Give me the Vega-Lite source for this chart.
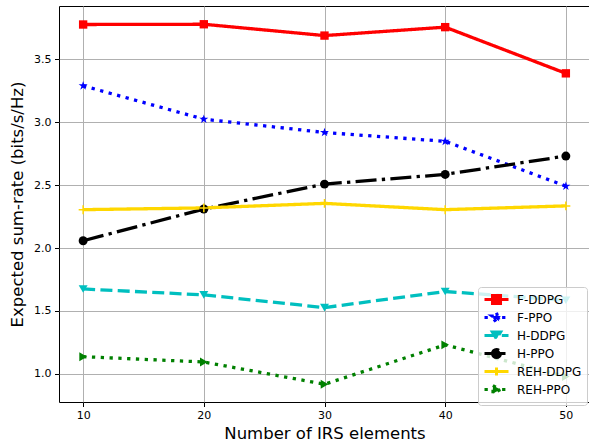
{
  "$schema": "https://vega.github.io/schema/vega-lite/v6.json",
  "width": 531,
  "height": 396,
  "autosize": {"type": "none"},
  "padding": {"left": 59, "top": 6, "right": 0, "bottom": 40},
  "background": "white",
  "config": {
    "font": "DejaVu Sans",
    "view": {"stroke": "#000000", "strokeWidth": 1},
    "axis": {
      "grid": true, "gridColor": "#b0b0b0", "gridWidth": 1,
      "domain": false, "tickColor": "#000000", "tickSize": 4.5, "tickWidth": 1,
      "labelFont": "DejaVu Sans", "labelFontSize": 11, "labelColor": "#000000",
      "titleFont": "DejaVu Sans", "titleFontSize": 16.5, "titleFontWeight": "normal", "titleColor": "#000000"
    }
  },
  "data": {"values": [
    {"n": 10, "series": "F-DDPG", "value": 3.776},
    {"n": 20, "series": "F-DDPG", "value": 3.778},
    {"n": 30, "series": "F-DDPG", "value": 3.688},
    {"n": 40, "series": "F-DDPG", "value": 3.755},
    {"n": 50, "series": "F-DDPG", "value": 3.388},
    {"n": 10, "series": "F-PPO", "value": 3.289},
    {"n": 20, "series": "F-PPO", "value": 3.024},
    {"n": 30, "series": "F-PPO", "value": 2.918},
    {"n": 40, "series": "F-PPO", "value": 2.848},
    {"n": 50, "series": "F-PPO", "value": 2.492},
    {"n": 10, "series": "H-DDPG", "value": 1.675},
    {"n": 20, "series": "H-DDPG", "value": 1.628},
    {"n": 30, "series": "H-DDPG", "value": 1.527},
    {"n": 40, "series": "H-DDPG", "value": 1.655},
    {"n": 50, "series": "H-DDPG", "value": 1.585},
    {"n": 10, "series": "H-PPO", "value": 2.058},
    {"n": 20, "series": "H-PPO", "value": 2.31},
    {"n": 30, "series": "H-PPO", "value": 2.508},
    {"n": 40, "series": "H-PPO", "value": 2.585},
    {"n": 50, "series": "H-PPO", "value": 2.731},
    {"n": 10, "series": "REH-DDPG", "value": 2.305},
    {"n": 20, "series": "REH-DDPG", "value": 2.319},
    {"n": 30, "series": "REH-DDPG", "value": 2.355},
    {"n": 40, "series": "REH-DDPG", "value": 2.305},
    {"n": 50, "series": "REH-DDPG", "value": 2.335},
    {"n": 10, "series": "REH-PPO", "value": 1.137},
    {"n": 20, "series": "REH-PPO", "value": 1.095},
    {"n": 30, "series": "REH-PPO", "value": 0.918},
    {"n": 40, "series": "REH-PPO", "value": 1.231},
    {"n": 50, "series": "REH-PPO", "value": 0.979}
  ]},
  "encoding": {
    "x": {
      "field": "n", "type": "quantitative",
      "scale": {"domain": [8, 52], "nice": false, "zero": false},
      "axis": {"values": [10, 20, 30, 40, 50], "title": "Number of IRS elements", "labelPadding": 3, "titlePadding": 5}
    },
    "y": {
      "field": "value", "type": "quantitative",
      "scale": {"domain": [0.777, 3.923], "nice": false, "zero": false},
      "axis": {"values": [1.0, 1.5, 2.0, 2.5, 3.0, 3.5], "format": ".1f", "title": "Expected sum-rate (bits/s/Hz)", "labelPadding": 3.5, "titlePadding": 8}
    }
  },
  "layer": [
    {
      "mark": {"type": "line", "strokeWidth": 3.3, "strokeCap": "butt"},
      "encoding": {
        "color": {
          "field": "series", "type": "nominal",
          "scale": {
            "domain": ["F-DDPG", "F-PPO", "H-DDPG", "H-PPO", "REH-DDPG", "REH-PPO"],
            "range": ["#ff0000", "#0000ff", "#00bfbf", "#000000", "#ffd700", "#008000"]
          },
          "legend": {
            "orient": "none", "legendX": 419, "legendY": 281,
            "title": null,
            "fillColor": "rgba(255,255,255,0.8)", "strokeColor": "#cccccc", "cornerRadius": 3,
            "padding": 5,
            "labelFont": "DejaVu Sans", "labelFontSize": 12, "labelColor": "#000000",
            "labelOffset": 19, "rowPadding": -4,
            "symbolSize": 144, "symbolStrokeWidth": 3,
            "encode": {
              "symbols": {
                "update": {
                  "shape": {"signal": "datum.value==='F-DDPG'?'M-1,0H3M0.33,-0.67H1.67V0.67H0.33Z':datum.value==='F-PPO'?'M-1,0H3M1,-0.8L1.18,-0.247L1.761,-0.247L1.291,0.094L1.47,0.647L1,0.306L0.53,0.647L0.709,0.094L0.239,-0.247L0.82,-0.247Z':datum.value==='H-DDPG'?'M-1,0H3M0.3,-0.6L1.7,-0.6L1,0.6Z':datum.value==='H-PPO'?'M-1,0H3M1.67,0A0.67,0.67,0,1,1,0.33,0A0.67,0.67,0,1,1,1.67,0Z':datum.value==='REH-DDPG'?'M-1,0H3M1,-0.67V0.67':'M-1,0H3M0.4,-0.67L1.67,0L0.4,0.67Z'"},
                  "fill": {"scale": "color", "field": "value"},
                  "stroke": {"scale": "color", "field": "value"},
                  "strokeWidth": {"value": 3},
                  "strokeDash": {"signal": "datum.value==='H-DDPG'?[8,4]:(datum.value==='F-PPO'||datum.value==='REH-PPO')?[3,5]:[1,0]"},
                  "size": {"value": 144},
                  "fillOpacity": {"value": 1},
                  "strokeOpacity": {"value": 1},
                  "opacity": {"value": 1}
                }
              }
            }
          }
        },
        "strokeDash": {
          "field": "series", "type": "nominal",
          "scale": {
            "domain": ["F-DDPG", "F-PPO", "H-DDPG", "H-PPO", "REH-DDPG", "REH-PPO"],
            "range": [[1, 0], [3.3, 5.5], [12, 5.3], [21, 5.3, 3.3, 5.3], [1, 0], [3.3, 5.5]]
          },
          "legend": null
        }
      }
    },
    {
      "transform": [{"filter": "datum.series === 'F-DDPG'"}],
      "mark": {"type": "point", "shape": "square", "filled": true, "color": "#ff0000", "opacity": 1, "size": 70}
    },
    {
      "transform": [{"filter": "datum.series === 'F-PPO'"}],
      "mark": {"type": "point", "shape": "M0,-1L0.2245,-0.309L0.951,-0.309L0.363,0.118L0.588,0.809L0,0.382L-0.588,0.809L-0.363,0.118L-0.951,-0.309L-0.2245,-0.309Z", "filled": true, "color": "#0000ff", "opacity": 1, "size": 90}
    },
    {
      "transform": [{"filter": "datum.series === 'H-DDPG'"}],
      "mark": {"type": "point", "shape": "M-1,-0.85L1,-0.85L0,0.85Z", "filled": true, "color": "#00bfbf", "opacity": 1, "size": 80}
    },
    {
      "transform": [{"filter": "datum.series === 'H-PPO'"}],
      "mark": {"type": "point", "shape": "circle", "filled": true, "color": "#000000", "opacity": 1, "size": 80}
    },
    {
      "transform": [{"filter": "datum.series === 'REH-DDPG'"}],
      "mark": {"type": "point", "shape": "M-1,0H1M0,-1V1", "filled": false, "color": "#ffd700", "strokeWidth": 1.5, "opacity": 1, "size": 80}
    },
    {
      "transform": [{"filter": "datum.series === 'REH-PPO'"}],
      "mark": {"type": "point", "shape": "M-0.85,-1L0.85,0L-0.85,1Z", "filled": true, "color": "#008000", "opacity": 1, "size": 80}
    }
  ]
}
